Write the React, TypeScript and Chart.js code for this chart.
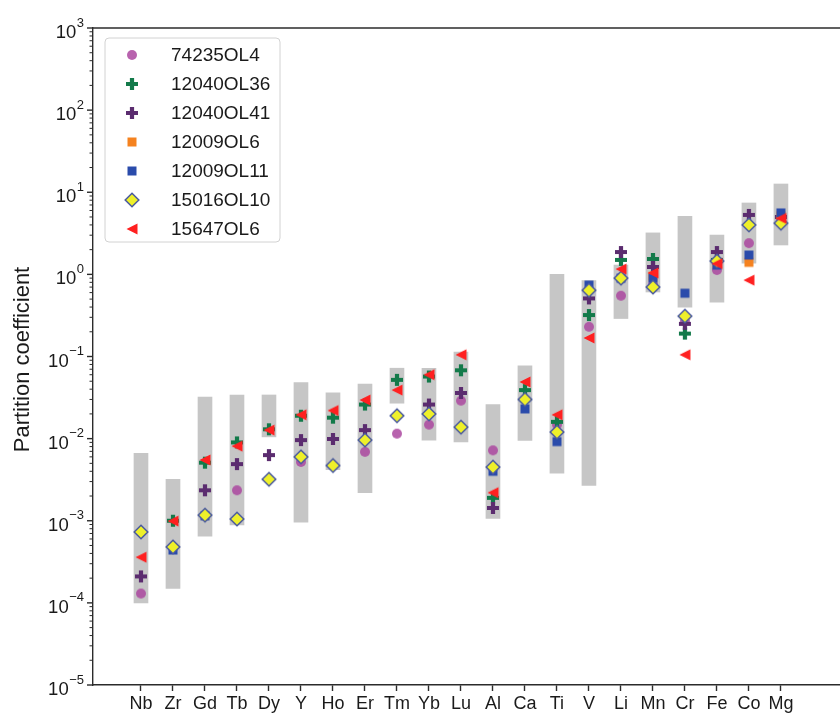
import React, { useEffect, useRef } from 'react';
import { Chart, registerables } from 'chart.js';

Chart.register(...registerables);

const FONT = "'Liberation Sans', Arial, Helvetica, sans-serif";

// Elements along the x axis
const elements = ['Nb', 'Zr', 'Gd', 'Tb', 'Dy', 'Y', 'Ho', 'Er', 'Tm', 'Yb', 'Lu', 'Al', 'Ca', 'Ti', 'V', 'Li', 'Mn', 'Cr', 'Fe', 'Co', 'Mg'];

// Literature range of olivine partition coefficients (grey bars)
const rangeLow = [1.0e-4, 1.5e-4, 6.5e-4, 8.9e-4, 0.0105, 9.6e-4, 4.2e-3, 2.2e-3, 0.027, 9.6e-3, 9.1e-3, 1.07e-3, 9.5e-3, 3.8e-3, 2.7e-3, 0.29, 0.61, 0.40, 0.46, 1.37, 2.28];
const rangeHigh = [6.6e-3, 3.2e-3, 0.032, 0.034, 0.034, 0.048, 0.036, 0.046, 0.072, 0.072, 0.113, 0.026, 0.077, 1.0, 0.84, 1.3, 3.2, 5.1, 3.0, 7.4, 12.6];

// Measured partition coefficients per sample (null = not determined)
const seriesNames = ['74235OL4', '12040OL36', '12040OL41', '12009OL6', '12009OL11', '15016OL10', '15647OL6'];

const s74235OL4 = [1.3e-4, null, null, 2.35e-3, null, 5.2e-3, null, 6.9e-3, 0.0115, 0.0148, 0.029, 7.2e-3, null, 0.0148, 0.23, 0.55, 0.75, 0.27, 1.13, 2.4, 4.8];
const s12040OL36 = [null, 1.0e-3, 5.1e-3, 9.0e-3, 0.013, 0.019, 0.018, 0.026, 0.052, 0.057, 0.068, 1.9e-3, 0.039, 0.016, 0.32, 1.5, 1.54, 0.19, 1.5, null, null];
const s12040OL41 = [2.1e-4, null, 2.35e-3, 4.9e-3, 6.3e-3, 9.6e-3, 9.9e-3, 0.0127, null, 0.026, 0.036, 1.43e-3, null, null, 0.51, 1.87, 1.23, 0.25, 1.87, 5.3, 5.0];
const s12009OL6 = [null, null, null, null, null, null, null, null, null, null, null, null, null, null, null, null, 0.95, null, 1.35, 1.4, 5.2];
const s12009OL11 = [null, 4.4e-4, 1.15e-3, null, null, null, null, null, null, null, null, 4.0e-3, 0.023, 9.2e-3, 0.74, 0.9, 0.9, 0.59, 1.3, 1.72, 5.6];
const s15016OL10 = [7.3e-4, 4.8e-4, 1.17e-3, 1.05e-3, 3.2e-3, 6.0e-3, 4.7e-3, 9.6e-3, 0.019, 0.02, 0.0138, 4.5e-3, 0.03, 0.012, 0.64, 0.9, 0.7, 0.31, 1.45, 4.0, 4.2];
const s15647OL6 = [3.6e-4, 9.9e-4, 5.5e-3, 8.1e-3, 0.0127, 0.0195, 0.022, 0.0295, 0.039, 0.06, 0.105, 2.2e-3, 0.049, 0.0195, 0.168, 1.16, 1.04, 0.105, 1.35, 0.85, 4.8];

const seriesValues = [s74235OL4, s12040OL36, s12040OL41, s12009OL6, s12009OL11, s15016OL10, s15647OL6];

type MarkerKind = 'circle' | 'plus' | 'square' | 'diamond' | 'triangleLeft';

const markerStyles: { kind: MarkerKind; fill: string; edge: string | null }[] = [
  { kind: 'circle', fill: 'rgba(172,72,160,0.85)', edge: null },
  { kind: 'plus', fill: '#137a4a', edge: null },
  { kind: 'plus', fill: '#5b2c6f', edge: null },
  { kind: 'square', fill: '#f5821f', edge: null },
  { kind: 'square', fill: '#2a4bab', edge: null },
  { kind: 'diamond', fill: '#eef02a', edge: '#4a5aa0' },
  { kind: 'triangleLeft', fill: '#ff2020', edge: null },
];

function makeMarker(kind: MarkerKind, fill: string, edge: string | null): HTMLCanvasElement {
  const S = 20;
  const c = document.createElement('canvas');
  c.width = S;
  c.height = S;
  const g = c.getContext('2d')!;
  const m = S / 2;
  g.fillStyle = fill;
  g.beginPath();
  if (kind === 'circle') {
    g.arc(m, m, 5, 0, Math.PI * 2);
  } else if (kind === 'square') {
    g.rect(m - 4.5, m - 4.5, 9, 9);
  } else if (kind === 'plus') {
    const a = 6, t = 2.1;
    g.moveTo(m - t, m - a); g.lineTo(m + t, m - a); g.lineTo(m + t, m - t); g.lineTo(m + a, m - t);
    g.lineTo(m + a, m + t); g.lineTo(m + t, m + t); g.lineTo(m + t, m + a); g.lineTo(m - t, m + a);
    g.lineTo(m - t, m + t); g.lineTo(m - a, m + t); g.lineTo(m - a, m - t); g.lineTo(m - t, m - t);
    g.closePath();
  } else if (kind === 'diamond') {
    g.moveTo(m, m - 6.8); g.lineTo(m + 6.8, m); g.lineTo(m, m + 6.8); g.lineTo(m - 6.8, m); g.closePath();
  } else {
    g.moveTo(m - 5.5, m); g.lineTo(m + 5.5, m - 5.5); g.lineTo(m + 5.5, m + 5.5); g.closePath();
  }
  g.fill();
  if (edge) {
    g.strokeStyle = edge;
    g.lineWidth = 1.5;
    g.stroke();
  }
  return c;
}

const SPINE = '#2b2b2b';

export default function App() {
  const canvasRef = useRef<HTMLCanvasElement | null>(null);

  useEffect(() => {
    const canvas = canvasRef.current;
    if (!canvas) return;
    const markers = markerStyles.map((s) => makeMarker(s.kind, s.fill, s.edge));

    const decorations = {
      id: 'decorations',
      afterDraw(chart: any) {
        const { ctx, chartArea: a } = chart;
        const y = chart.scales.y;
        ctx.save();
        ctx.strokeStyle = SPINE;
        ctx.lineWidth = 1.4;
        // top spine
        ctx.beginPath();
        ctx.moveTo(a.left, a.top);
        ctx.lineTo(a.right, a.top);
        ctx.stroke();

        // log ticks on the y axis
        for (let e = -5; e <= 3; e++) {
          const yp = y.getPixelForValue(Math.pow(10, e));
          ctx.lineWidth = 1.4;
          ctx.beginPath();
          ctx.moveTo(a.left - 6, yp);
          ctx.lineTo(a.left, yp);
          ctx.stroke();
          if (e < 3) {
            ctx.lineWidth = 1;
            for (let k = 2; k <= 9; k++) {
              const ym = y.getPixelForValue(k * Math.pow(10, e));
              ctx.beginPath();
              ctx.moveTo(a.left - 3.5, ym);
              ctx.lineTo(a.left, ym);
              ctx.stroke();
            }
          }
          // label 10^e
          const sup = e < 0 ? '\u2212' + String(-e) : String(e);
          ctx.fillStyle = '#1a1a1a';
          ctx.textBaseline = 'middle';
          ctx.textAlign = 'left';
          ctx.font = `13px ${FONT}`;
          const ws = ctx.measureText(sup).width;
          ctx.font = `18.5px ${FONT}`;
          const wb = ctx.measureText('10').width;
          const right = a.left - 9;
          ctx.fillText('10', right - ws - wb - 0.5, yp + 5);
          ctx.font = `13px ${FONT}`;
          ctx.fillText(sup, right - ws, yp - 5);
        }

        // y axis title
        ctx.save();
        ctx.translate(23, (a.top + a.bottom) / 2 + 3);
        ctx.rotate(-Math.PI / 2);
        ctx.textAlign = 'center';
        ctx.textBaseline = 'middle';
        ctx.font = `22px ${FONT}`;
        ctx.fillStyle = '#1a1a1a';
        ctx.fillText('Partition coefficient', 0, 0);
        ctx.restore();

        // legend
        const lx = 105, ly = 38, lw = 175, lh = 204;
        ctx.beginPath();
        if ((ctx as any).roundRect) (ctx as any).roundRect(lx, ly, lw, lh, 4);
        else ctx.rect(lx, ly, lw, lh);
        ctx.fillStyle = 'rgba(255,255,255,0.85)';
        ctx.fill();
        ctx.strokeStyle = '#d2d2d2';
        ctx.lineWidth = 1;
        ctx.stroke();
        ctx.font = `19px ${FONT}`;
        ctx.textAlign = 'left';
        ctx.textBaseline = 'middle';
        ctx.fillStyle = '#1a1a1a';
        seriesNames.forEach((name, k) => {
          const ry = 55 + k * 29;
          const mk = markers[k];
          ctx.drawImage(mk, 132 - mk.width / 2, ry - mk.height / 2);
          ctx.fillText(name, 171, ry + 1);
        });
        ctx.restore();
      },
    };

    const datasets: any[] = [
      {
        type: 'bar',
        label: 'range',
        data: elements.map((_, i) => ({ x: i, y: [rangeLow[i], rangeHigh[i]] })),
        backgroundColor: 'rgba(128,128,128,0.45)',
        borderWidth: 0,
        barThickness: 14,
        order: 100,
      },
      ...seriesValues.map((vals, k) => ({
        type: 'scatter',
        label: seriesNames[k],
        data: vals
          .map((v, i) => (v == null ? null : { x: i, y: v }))
          .filter((p) => p !== null),
        pointStyle: markers[k],
        pointRadius: 6,
        showLine: false,
        order: 10 - k,
      })),
    ];

    const chart = new Chart(canvas, {
      type: 'bar',
      data: { datasets },
      plugins: [decorations],
      options: {
        responsive: false,
        animation: false,
        layout: { padding: { top: 28, left: 0, right: 0, bottom: 0 } },
        plugins: {
          legend: { display: false },
          tooltip: { enabled: false },
        },
        scales: {
          x: {
            type: 'linear',
            offset: false,
            min: -1.5,
            max: 21.94,
            afterBuildTicks: (s: any) => {
              s.ticks = elements.map((_, i) => ({ value: i }));
            },
            afterFit: (s: any) => {
              s.height = 28;
            },
            ticks: {
              autoSkip: false,
              maxRotation: 0,
              padding: 2,
              color: '#1a1a1a',
              font: { family: FONT, size: 18 },
              callback: (v: any) => elements[v as number] ?? '',
            },
            grid: {
              offset: false,
              drawOnChartArea: false,
              drawTicks: true,
              tickLength: 6,
              tickColor: SPINE,
              tickWidth: 1.4,
            },
            border: { display: true, color: SPINE, width: 1.4 },
          },
          y: {
            type: 'logarithmic',
            min: 1e-5,
            max: 1e3,
            afterFit: (s: any) => {
              s.width = 93;
            },
            ticks: { display: false },
            grid: { display: false, drawTicks: false },
            border: { display: true, color: SPINE, width: 1.4 },
          },
        },
      } as any,
    });

    return () => {
      chart.destroy();
    };
  }, []);

  return (
    <div style={{ position: 'fixed', left: 0, top: 0, width: 840, height: 713, overflow: 'hidden', background: '#fff' }}>
      <canvas ref={canvasRef} width={850} height={713} style={{ width: 850, height: 713, display: 'block' }} />
    </div>
  );
}
